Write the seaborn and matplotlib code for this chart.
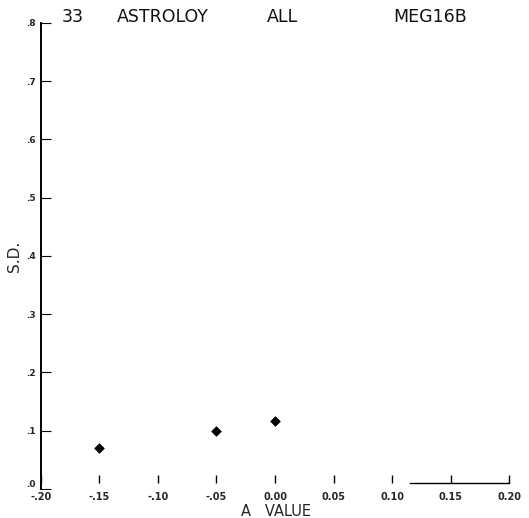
import matplotlib
matplotlib.use("Agg")
import matplotlib.pyplot as plt
import seaborn as sns
import pandas as pd

# data
a_values = [-0.15, -0.05, 0.00]
sd_values = [0.071, 0.100, 0.117]
x_ticks = [-0.20, -0.15, -0.10, -0.05, 0.00, 0.05, 0.10, 0.15, 0.20]
x_tick_labels = ["-.20", "-.15", "-.10", "-.05", "0.00", "0.05", "0.10", "0.15", "0.20"]
y_ticks = [0.0, 0.1, 0.2, 0.3, 0.4, 0.5, 0.6, 0.7, 0.8]
y_tick_labels = [".0", ".1", ".2", ".3", ".4", ".5", ".6", ".7", ".8"]
title_parts = ["33", "ASTROLOY", "ALL", "MEG16B"]

sns.set_style("white")
plt.rcParams['font.family'] = ['DejaVu Sans']

fig = plt.figure(figsize=(5.29, 5.18), dpi=100)
ax = fig.add_axes([0.0775, 0.056, 0.8847, 0.8996])

df = pd.DataFrame({"a": a_values, "sd": sd_values})
sns.scatterplot(data=df, x="a", y="sd", marker="D", s=24, color="black",
                edgecolor="black", linewidth=0.5, ax=ax, legend=False)

for s in ["top", "right"]:
    ax.spines[s].set_visible(False)
ax.spines["left"].set_color("black")
ax.spines["left"].set_linewidth(1.4)
ax.spines["bottom"].set_color("black")
ax.spines["bottom"].set_linewidth(1.0)
ax.spines["bottom"].set_position(("data", 0.01))
ax.spines["bottom"].set_bounds(0.115, 0.20)

ax.set_xlim(-0.20, 0.20)
ax.set_ylim(0.0, 0.8)
ax.set_xticks(x_ticks)
ax.set_xticklabels(x_tick_labels, fontsize=7, fontweight="bold")
ax.set_yticks(y_ticks)
ax.set_yticklabels(y_tick_labels, fontsize=6.5, fontweight="bold")
ax.tick_params(axis="x", bottom=True, direction="in", length=6, width=1.0, pad=6.5, color="black")
ax.tick_params(axis="y", left=True, direction="in", length=7, width=0.8, pad=4, color="black")
ax.get_yticklabels()[0].set_verticalalignment("bottom")

ax.set_xlabel("")
ax.set_ylabel("")
fig.text(276 / 529, 1 - 516 / 518, "A   VALUE", fontsize=10.5, ha="center", va="baseline")
fig.text(14 / 529, 1 - 256 / 518, "S.D.", fontsize=11, ha="center", va="center", rotation=90)

xs = [62, 117, 267, 393]
for xx, t in zip(xs, title_parts):
    fig.text(xx / 529, 1 - 22 / 518, t, fontsize=12.5, ha="left", va="baseline", color="#111111")

fig.savefig("out.png", dpi=100)
